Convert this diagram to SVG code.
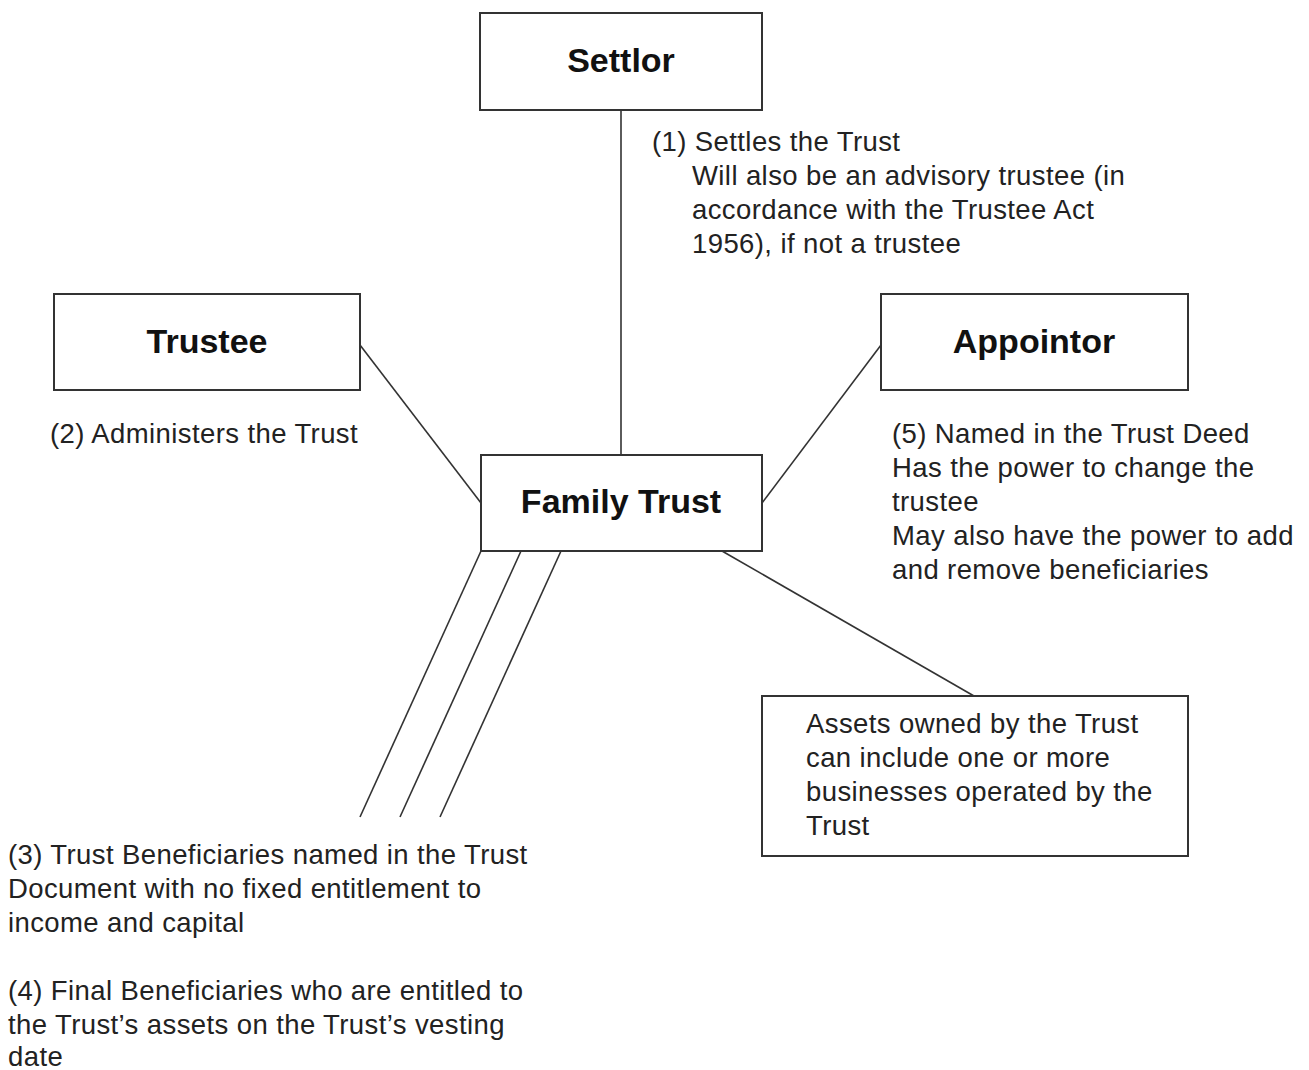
<svg xmlns="http://www.w3.org/2000/svg" width="1309" height="1070" viewBox="0 0 1309 1070">
<style>
.box{fill:#fff;stroke:#333;stroke-width:2}
.conn line{stroke:#333;stroke-width:1.6}
.title{font-family:"Liberation Sans",Arial,sans-serif;font-weight:bold;font-size:34px;fill:#111;text-anchor:middle}
.txt{font-family:"Liberation Sans",Arial,sans-serif;font-size:27.5px;letter-spacing:0.4px;fill:#222}
</style>
<rect width="1309" height="1070" fill="#fff"/>
<g class="conn" id="connectors">
<line x1="621" y1="110" x2="621" y2="455"/>
<line x1="360" y1="345" x2="481" y2="503"/>
<line x1="881" y1="345" x2="762" y2="503"/>
<line x1="722" y1="551" x2="974" y2="696"/>
<line x1="481" y1="551" x2="360" y2="817"/>
<line x1="521" y1="551" x2="400" y2="817"/>
<line x1="561" y1="551" x2="440" y2="817"/>
</g>
<g id="settlor">
<rect class="box" x="480" y="13" width="282" height="97"/>
<text class="title" x="621" y="72">Settlor</text>
</g>
<g id="trustee">
<rect class="box" x="54" y="294" width="306" height="96"/>
<text class="title" x="207" y="353">Trustee</text>
</g>
<g id="appointor">
<rect class="box" x="881" y="294" width="307" height="96"/>
<text class="title" x="1034" y="353">Appointor</text>
</g>
<g id="family-trust">
<rect class="box" x="481" y="455" width="281" height="96"/>
<text class="title" x="621" y="513">Family Trust</text>
</g>
<g id="assets">
<rect class="box" x="762" y="696" width="426" height="160"/>
<text class="txt"><tspan x="806" y="733">Assets owned by the Trust</tspan><tspan x="806" y="767">can include one or more</tspan><tspan x="806" y="801">businesses operated by the</tspan><tspan x="806" y="835">Trust</tspan></text>
</g>
<g id="labels">
<text class="txt"><tspan x="652" y="151">(1) Settles the Trust</tspan><tspan x="692" y="185">Will also be an advisory trustee (in</tspan><tspan x="692" y="219">accordance with the Trustee Act</tspan><tspan x="692" y="253">1956), if not a trustee</tspan></text>
<text class="txt" x="50" y="443">(2) Administers the Trust</text>
<text class="txt"><tspan x="892" y="443">(5) Named in the Trust Deed</tspan><tspan x="892" y="477">Has the power to change the</tspan><tspan x="892" y="511">trustee</tspan><tspan x="892" y="545">May also have the power to add</tspan><tspan x="892" y="579">and remove beneficiaries</tspan></text>
<text class="txt"><tspan x="8" y="864">(3) Trust Beneficiaries named in the Trust</tspan><tspan x="8" y="898">Document with no fixed entitlement to</tspan><tspan x="8" y="932">income and capital</tspan><tspan x="8" y="1000">(4) Final Beneficiaries who are entitled to</tspan><tspan x="8" y="1034">the Trust’s assets on the Trust’s vesting</tspan><tspan x="8" y="1066">date</tspan></text>
</g>
</svg>
